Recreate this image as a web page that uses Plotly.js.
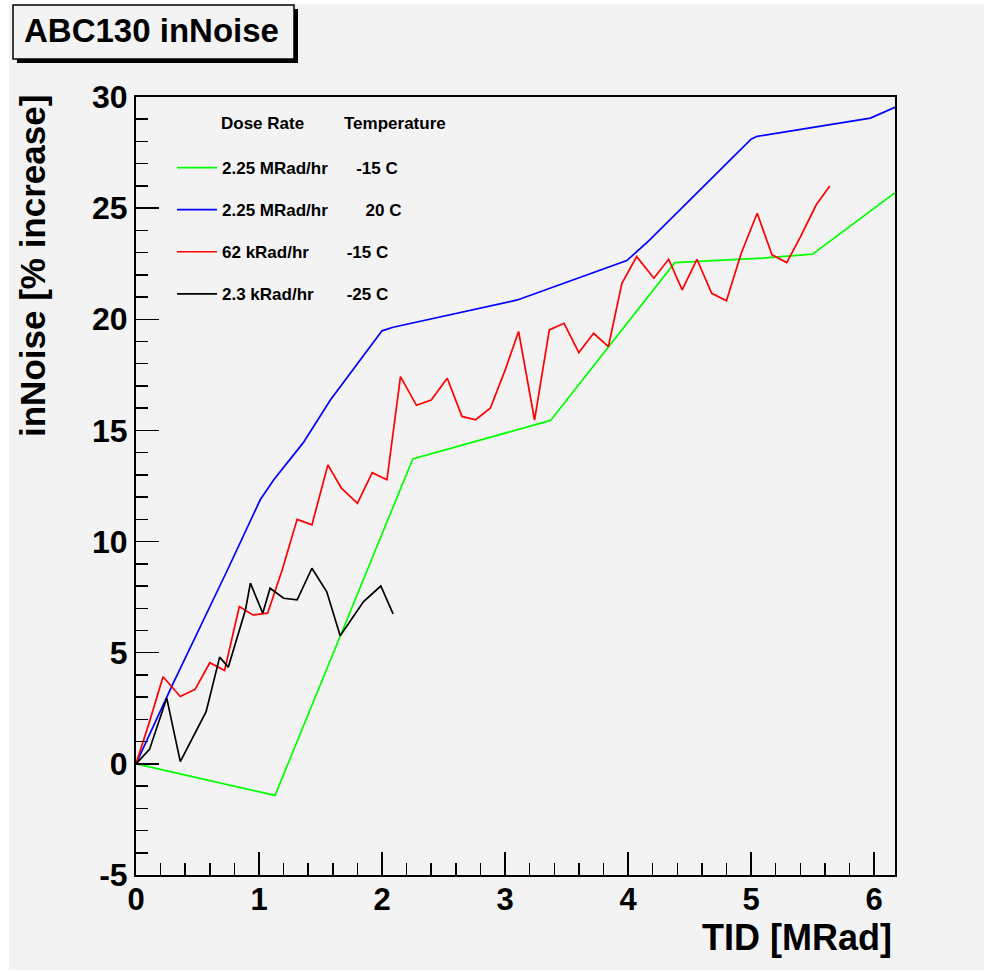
<!DOCTYPE html>
<html>
<head>
<meta charset="utf-8">
<script src="https://cdn.plot.ly/plotly-3.0.1.min.js"></script>
<style>
  html, body { margin: 0; padding: 0; background: #ffffff; }
  #chart { position: absolute; left: 9px; top: 4px; width: 975px; height: 966px; }
</style>
</head>
<body>
<div id="chart"></div>
<script>
// ---- Data ----
const greenX = [0, 1.13, 2.25, 3.37, 4.38, 4.80, 5.09, 5.50, 6.17];
const greenY = [0, -1.42, 13.72, 15.45, 22.55, 22.68, 22.75, 22.93, 25.7];

const blueX = [0, 0.30, 0.75, 1.01, 1.12, 1.36, 1.58, 2.00, 2.09, 3.10, 3.99, 4.17, 5.00, 5.05, 5.97, 6.17];
const blueY = [0, 3.6, 8.8, 11.88, 12.78, 14.45, 16.37, 19.48, 19.64, 20.87, 22.64, 23.54, 28.1, 28.23, 29.05, 29.54];

const redX = [0, 0.11, 0.22, 0.36, 0.48, 0.60, 0.72, 0.84, 0.95, 1.07, 1.19, 1.31, 1.43, 1.56, 1.67, 1.80, 1.92, 2.04,
              2.15, 2.28, 2.40, 2.53, 2.65, 2.76, 2.88, 3.00, 3.11, 3.24, 3.36, 3.48, 3.60, 3.72, 3.84, 3.95, 4.07,
              4.21, 4.33, 4.44, 4.56, 4.68, 4.80, 4.92, 5.05, 5.17, 5.29, 5.40, 5.53, 5.64];
const redY = [0, 1.9, 3.92, 3.03, 3.35, 4.55, 4.2, 7.08, 6.7, 6.78, 8.75, 11.0, 10.75, 13.45, 12.4, 11.72, 13.1, 12.78,
              17.42, 16.13, 16.37, 17.35, 15.63, 15.48, 16.0, 17.7, 19.45, 15.47, 19.52, 19.82, 18.5, 19.37, 18.77, 21.62, 22.82,
              21.85, 22.7, 21.32, 22.7, 21.17, 20.83, 22.97, 24.77, 22.9, 22.55, 23.7, 25.15, 26.0];

const blackX = [0, 0.11, 0.25, 0.36, 0.57, 0.68, 0.75, 0.89, 0.93, 1.03, 1.09, 1.20, 1.31, 1.43, 1.55, 1.66, 1.85, 1.99, 2.09];
const blackY = [0, 0.65, 2.96, 0.1, 2.35, 4.8, 4.35, 6.93, 8.13, 6.78, 7.9, 7.45, 7.38, 8.8, 7.75, 5.76, 7.3, 8.0, 6.75];

const doseRates = ["2.25 MRad/hr", "2.25 MRad/hr", "62 kRad/hr", "2.3 kRad/hr"];
const temperatures = ["-15 C", "20 C", "-15 C", "-25 C"];
const padCounts = [6, 8, 8, 7];

const yTickVals = [-5, 0, 5, 10, 15, 20, 25, 30];
const xTickVals = [0, 1, 2, 3, 4, 5, 6];

const titleText = "ABC130 inNoise";
const xTitle = "TID [MRad]";
const yTitle = "inNoise [% increase]";
const legendHeader1 = "Dose Rate";
const legendHeader2 = "Temperature";

// ---- Geometry helpers (page pixels -> paper coords) ----
const DIV_L = 9, DIV_T = 4;
const M = { l: 127, r: 89, t: 93, b: 95 };
const W = 975 - M.l - M.r, H = 966 - M.t - M.b;
const px = (x) => (x - DIV_L - M.l) / W;
const py = (y) => 1 - (y - DIV_T - M.t) / H;

const NB = "\u00A0";
const names = doseRates.map((d, i) => d + NB.repeat(padCounts[i]) + temperatures[i]);

const FONT = "Liberation Sans, Arial, Helvetica, sans-serif";
const BG = "#f3f3f3";

const mk = (x, y, color, i) => ({
  x: x, y: y, type: "scatter", mode: "lines",
  line: { color: color, width: 1.7 },
  name: names[i], legendgroup: "g" + i, hoverinfo: "x+y"
});

const traces = [
  mk(greenX, greenY, "#00ff00", 0),
  mk(blueX, blueY, "#0000ff", 1),
  mk(redX, redY, "#ff0000", 2),
  mk(blackX, blackY, "#000000", 3)
];

const axisCommon = {
  showgrid: false, zeroline: false, showline: true, linecolor: "#000", linewidth: 2, mirror: true,
  ticks: "inside", ticklen: 23, tickwidth: 1.5, tickcolor: "#000"
};

const layout = {
  width: 975, height: 966,
  margin: M,
  paper_bgcolor: BG, plot_bgcolor: BG,
  showlegend: true,
  legend: {
    x: px(172), xanchor: "left", y: py(150), yanchor: "top",
    bgcolor: "rgba(0,0,0,0)", borderwidth: 0, itemwidth: 40,
    font: { family: FONT, size: 17, color: "#000", weight: "bold" },
    tracegroupgap: 17
  },
  xaxis: Object.assign({}, axisCommon, {
    range: [0, 6.17], tickvals: xTickVals, ticktext: xTickVals.map(String),
    tickfont: { family: FONT, size: 31, color: "#000", weight: "bold" },
    ticklabelstandoff: -4,
    minor: { dtick: 0.2, ticks: "inside", ticklen: 12, tickwidth: 1.5, tickcolor: "#000" }
  }),
  yaxis: Object.assign({}, axisCommon, {
    range: [-5, 30], tickvals: yTickVals, ticktext: yTickVals.map(String),
    tickfont: { family: FONT, size: 32, color: "#000", weight: "bold" },
    minor: { dtick: 1, ticks: "inside", ticklen: 12, tickwidth: 1.5, tickcolor: "#000" }
  }),
  shapes: [
    { type: "rect", xref: "paper", yref: "paper", x0: px(17), x1: px(298), y0: py(9), y1: py(63),
      fillcolor: "#000", line: { width: 0 }, layer: "above" },
    { type: "rect", xref: "paper", yref: "paper", x0: px(13), x1: px(294), y0: py(5), y1: py(59),
      fillcolor: BG, line: { color: "#000", width: 1.5 }, layer: "above" }
  ],
  annotations: [
    { text: titleText, xref: "paper", yref: "paper", x: px(151), y: py(31), xanchor: "center", yanchor: "middle",
      showarrow: false, font: { family: FONT, size: 33, color: "#000", weight: "bold" } },
    { text: xTitle, xref: "paper", yref: "paper", x: px(894), y: py(937), xanchor: "right", yanchor: "middle",
      showarrow: false, font: { family: FONT, size: 36, color: "#000", weight: "bold" } },
    { text: yTitle, xref: "paper", yref: "paper", x: px(32), y: py(266), xanchor: "center", yanchor: "middle",
      textangle: -90, showarrow: false, font: { family: FONT, size: 35, color: "#000", weight: "bold" } },
    { text: legendHeader1, xref: "paper", yref: "paper", x: px(219), y: py(123), xanchor: "left", yanchor: "middle",
      showarrow: false, font: { family: FONT, size: 17, color: "#000", weight: "bold" } },
    { text: legendHeader2, xref: "paper", yref: "paper", x: px(342), y: py(123), xanchor: "left", yanchor: "middle",
      showarrow: false, font: { family: FONT, size: 17, color: "#000", weight: "bold" } }
  ]
};

Plotly.newPlot("chart", traces, layout, { displayModeBar: false, staticPlot: true });
</script>
</body>
</html>
